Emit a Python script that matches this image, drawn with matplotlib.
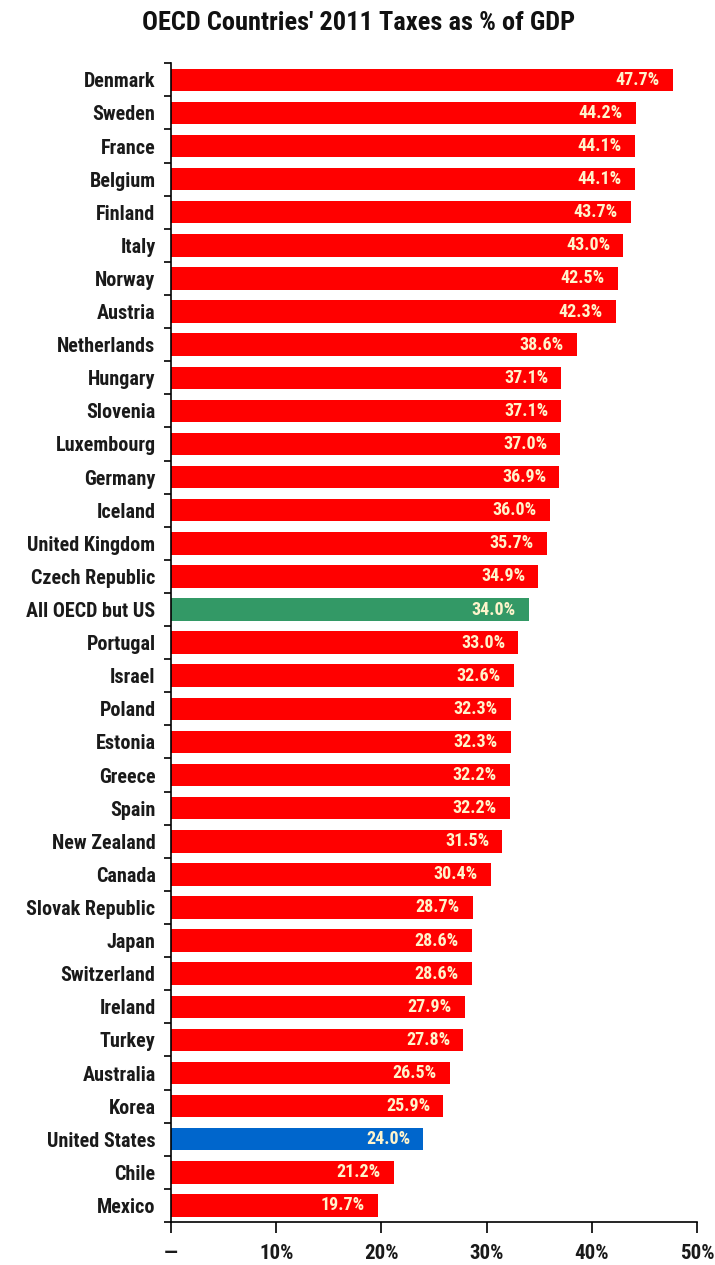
import matplotlib.pyplot as plt

countries = ['Denmark', 'Sweden', 'France', 'Belgium', 'Finland', 'Italy', 'Norway',
             'Austria', 'Netherlands', 'Hungary', 'Slovenia', 'Luxembourg', 'Germany',
             'Iceland', 'United Kingdom', 'Czech Republic', 'All OECD but US', 'Portugal',
             'Israel', 'Poland', 'Estonia', 'Greece', 'Spain', 'New Zealand', 'Canada',
             'Slovak Republic', 'Japan', 'Switzerland', 'Ireland', 'Turkey', 'Australia',
             'Korea', 'United States', 'Chile', 'Mexico']
taxes = [47.7, 44.2, 44.1, 44.1, 43.7, 43.0, 42.5, 42.3, 38.6, 37.1, 37.1, 37.0, 36.9,
         36.0, 35.7, 34.9, 34.0, 33.0, 32.6, 32.3, 32.3, 32.2, 32.2, 31.5, 30.4, 28.7,
         28.6, 28.6, 27.9, 27.8, 26.5, 25.9, 24.0, 21.2, 19.7]
xticks = [0, 10, 20, 30, 40, 50]
xlabels = ['—', '10%', '20%', '30%', '40%', '50%']

plt.rcParams['font.family'] = ['Roboto Condensed', 'Liberation Sans', 'DejaVu Sans']

colors = []
for c in countries:
    if c == 'All OECD but US':
        colors.append('#339966')
    elif c == 'United States':
        colors.append('#0066CC')
    else:
        colors.append('#FF0000')

fig = plt.figure(figsize=(7.15, 12.65), dpi=100)
ax = fig.add_axes([0.239, 0.034, 0.736, 0.916])

ypos = list(range(len(countries)))
ax.barh(ypos, taxes, height=0.68, color=colors)
for y, v in zip(ypos, taxes):
    ax.annotate('%.1f%%' % v, xy=(v, y), xytext=(-9.5, 0), textcoords='offset points',
                ha='right', va='center', fontsize=13, fontweight='bold', color='#FFF4CC')

ax.set_ylim(len(countries) - 0.5, -0.5)
ax.set_xlim(0, 50)
ax.set_yticks(ypos)
ax.set_yticklabels(countries, fontsize=14.5, fontweight='bold', color='#1a1a1a')
ax.set_yticks([i + 0.5 for i in range(-1, len(countries))], minor=True)
ax.tick_params(axis='y', which='major', length=0, pad=11)
ax.tick_params(axis='y', which='minor', length=5, width=1.2, direction='out')
ax.set_xticks(xticks)
ax.set_xticklabels(xlabels, fontsize=15, fontweight='bold', color='#1a1a1a')
ax.tick_params(axis='x', length=8, width=1.2, direction='out', pad=8)

ax.spines['top'].set_visible(False)
ax.spines['right'].set_visible(False)
ax.spines['left'].set_linewidth(1.2)
ax.spines['bottom'].set_linewidth(1.2)

fig.text(0.502, 0.982, "OECD Countries' 2011 Taxes as % of GDP", ha='center', va='center',
         fontsize=19, fontweight='bold', color='#111111')

plt.savefig('out.png')
